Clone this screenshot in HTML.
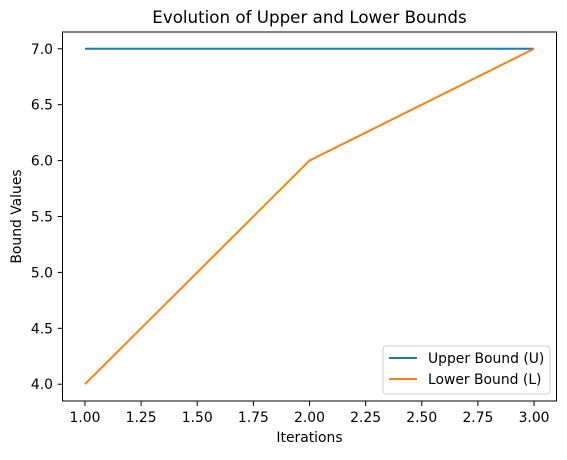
<!DOCTYPE html>
<html><head><meta charset="utf-8"><style>
body{margin:0;background:#fff;font-family:"Liberation Sans","DejaVu Sans",sans-serif;}
svg text{font-family:"DejaVu Sans","Liberation Sans",sans-serif;}
</style></head><body>
<svg id="chart" width="567" height="455" xmlns="http://www.w3.org/2000/svg">
<text x="309.5" y="23" font-size="16.7" text-anchor="middle">Evolution of Upper and Lower Bounds</text>
<g id="plot"></g>
<text x="309.5" y="442" font-size="13.9" text-anchor="middle">Iterations</text>
<text x="21" y="216.5" font-size="13.9" text-anchor="middle" transform="rotate(-90 21 216.5)">Bound Values</text>
</svg>
<script>
const iterations=[1,2,3];
const upper=[7,7,7];
const lower=[4,6,7];
const xTicks=[1,1.25,1.5,1.75,2,2.25,2.5,2.75,3];
const yTicks=[4,4.5,5,5.5,6,6.5,7];
const seriesNames=["Upper Bound (U)","Lower Bound (L)"];
const L=62.5,R=556.5,T=32,B=401;
const xmin=0.9,xmax=3.1,ymin=3.85,ymax=7.15;
const sx=v=>L+(v-xmin)/(xmax-xmin)*(R-L);
const sy=v=>B-(v-ymin)/(ymax-ymin)*(B-T);
const g=document.getElementById('plot');
const NS="http://www.w3.org/2000/svg";
function mk(t,a){const e=document.createElementNS(NS,t);for(const k in a)e.setAttribute(k,a[k]);g.appendChild(e);return e;}
xTicks.forEach(v=>{const x=sx(v);
const l=mk('line',{x1:x,x2:x,y1:B,y2:B+4.9,stroke:'#000','stroke-width':1});


const t=mk('text',{x:x,y:B+21,'font-size':13.9,'text-anchor':'middle'});t.textContent=v.toFixed(2);

});
yTicks.forEach(v=>{const y=sy(v);
const l=mk('line',{x1:L-4.9,x2:L,y1:y,y2:y,stroke:'#000','stroke-width':1});


const t=mk('text',{x:L-9.5,y:y+5,'font-size':13.9,'text-anchor':'end'});t.textContent=v.toFixed(1);

});
const colors=['#1f77b4','#ff7f0e'];
[upper,lower].forEach((s,i)=>{
const p=mk('polyline',{points:iterations.map((x,j)=>sx(x)+','+sy(s[j])).join(' '),fill:'none',stroke:colors[i],'stroke-width':2});

});
const fr=mk('rect',{x:L,y:T,width:R-L,height:B-T,fill:'none',stroke:'#000','stroke-width':1});


const lg=mk('rect',{x:383,y:346,width:167,height:48,fill:'#fff','fill-opacity':0.8,stroke:'#ccc',rx:3});


seriesNames.forEach((n,i)=>{const y=358+i*21;
const l=mk('line',{x1:389,x2:417,y1:y,y2:y,stroke:colors[i],'stroke-width':2});


const t=mk('text',{x:428,y:y+5,'font-size':13.9});t.textContent=n;

});
</script>
</body></html>
